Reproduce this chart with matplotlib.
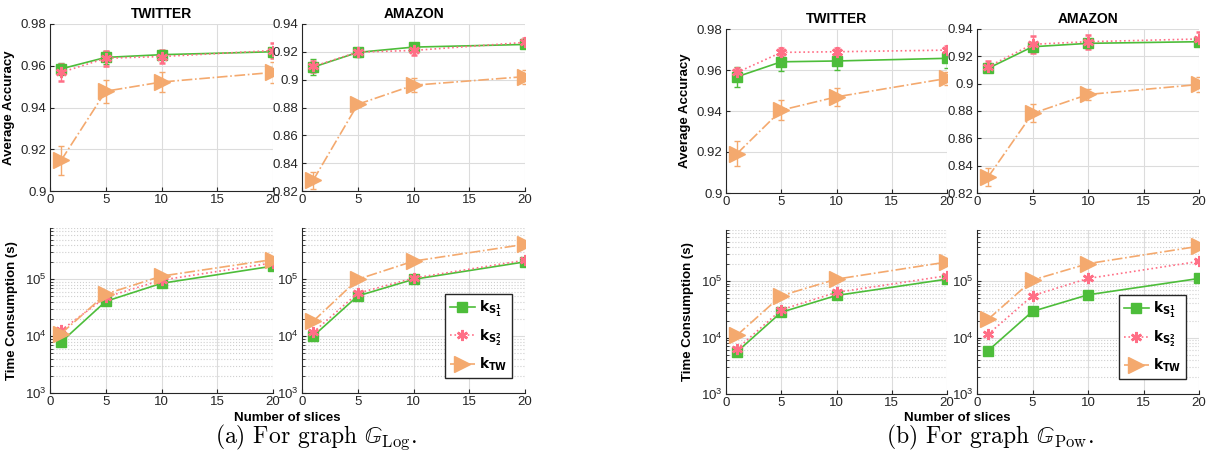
import numpy as np
import matplotlib.pyplot as plt
from matplotlib.ticker import LogLocator, NullFormatter

plt.rcParams['font.family'] = ['Liberation Sans', 'DejaVu Sans']

slices = [1, 5, 10, 20]
datasets = ["TWITTER", "AMAZON"]

# accuracy (mean, err) -- graph G_Log
log_acc = {
    "TWITTER": dict(s1=[0.9585, 0.9640, 0.9653, 0.9667], s1e=[0.003, 0.003, 0.002, 0.002],
                    s2=[0.9568, 0.9636, 0.9644, 0.9673], s2e=[0.004, 0.0035, 0.003, 0.0035],
                    tw=[0.9147, 0.9478, 0.9522, 0.9568], twe=[0.007, 0.0055, 0.0048, 0.005]),
    "AMAZON": dict(s1=[0.9090, 0.9196, 0.9234, 0.9253], s1e=[0.006, 0.003, 0.002, 0.002],
                   s2=[0.9095, 0.9198, 0.9210, 0.9268], s2e=[0.004, 0.003, 0.003, 0.003],
                   tw=[0.8277, 0.8823, 0.8960, 0.9022], twe=[0.006, 0.002, 0.005, 0.005]),
}
# accuracy -- graph G_Pow
pow_acc = {
    "TWITTER": dict(s1=[0.9567, 0.9640, 0.9644, 0.9657], s1e=[0.005, 0.0045, 0.0045, 0.0045],
                    s2=[0.9588, 0.9686, 0.9689, 0.9697], s2e=[0.002, 0.002, 0.002, 0.002],
                    tw=[0.9192, 0.9404, 0.9469, 0.9559], twe=[0.006, 0.005, 0.0045, 0.003]),
    "AMAZON": dict(s1=[0.9112, 0.9270, 0.9295, 0.9307], s1e=[0.003, 0.003, 0.003, 0.003],
                   s2=[0.9124, 0.9288, 0.9307, 0.9327], s2e=[0.004, 0.006, 0.005, 0.005],
                   tw=[0.8317, 0.8782, 0.8921, 0.8994], twe=[0.0067, 0.0066, 0.0043, 0.0057]),
}
# time consumption (s)
log_time = {
    "TWITTER": dict(s1=[7.9e3, 4.1e4, 8.5e4, 1.71e5], s2=[1.27e4, 4.85e4, 9.7e4, 1.95e5],
                    tw=[1.11e4, 5.5e4, 1.14e5, 2.23e5]),
    "AMAZON": dict(s1=[1.0e4, 5.1e4, 1.0e5, 2.03e5], s2=[1.17e4, 5.7e4, 1.05e5, 2.17e5],
                   tw=[1.83e4, 1.0e5, 2.09e5, 4.13e5]),
}
pow_time = {
    "TWITTER": dict(s1=[5.6e3, 2.8e4, 5.55e4, 1.08e5], s2=[6.3e3, 3.1e4, 6.3e4, 1.24e5],
                    tw=[1.1e4, 5.5e4, 1.08e5, 2.17e5]),
    "AMAZON": dict(s1=[5.85e3, 2.9e4, 5.7e4, 1.11e5], s2=[1.14e4, 5.5e4, 1.11e5, 2.23e5],
                   tw=[2.1e4, 1.04e5, 2.03e5, 4.13e5]),
}

labels = {"s1": r"$\mathbf{k_{S_1^1}}$", "s2": r"$\mathbf{k_{S_2^2}}$", "tw": r"$\mathbf{k_{TW}}$"}
styles = {
    "s1": dict(color="#4dbd3a", ls="-", marker="s", ms=7.5),
    "s2": dict(color="#ff6f86", ls=":", marker=(6, 2, 0), ms=8, mew=1.8),
    "tw": dict(color="#f4a96e", ls="-.", marker=">", ms=11),
}

W, H = 1209, 457
fig = plt.figure(figsize=(W / 100, H / 100), dpi=100)


def make_ax(l, r, t, b):
    return fig.add_axes([l / W, 1 - b / H, (r - l) / W, (b - t) / H])


def style_ax(ax):
    for s in ["top", "right"]:
        ax.spines[s].set_visible(False)
    ax.spines["left"].set_color("#262626")
    ax.spines["bottom"].set_color("#262626")
    ax.tick_params(direction="in", labelsize=9.5, colors="#262626", length=3, pad=2.5)
    ax.grid(True, color="#dcdcdc", lw=0.8)
    ax.set_axisbelow(True)
    ax.set_xlim(0, 20)
    ax.set_xticks([0, 5, 10, 15, 20])


groups = [
    (log_acc, log_time, (50, 273, 302, 525), (24, 191, 228, 393), "(a) For graph $\\mathbb{G}_{\\mathrm{Log}}$.", 316, 287),
    (pow_acc, pow_time, (726, 947, 977, 1199), (29, 193, 230, 394), "(b) For graph $\\mathbb{G}_{\\mathrm{Pow}}$.", 990, 957),
]

for acc, tim, xs, ys, caption, capx, xlx in groups:
    for j, name in enumerate(datasets):
        l, r = xs[2 * j], xs[2 * j + 1]
        ax = make_ax(l, r, ys[0], ys[1])
        style_ax(ax)
        d = acc[name]
        for k in ["s1", "s2", "tw"]:
            st = styles[k]
            ax.errorbar(slices, d[k], yerr=d[k + "e"], color=st["color"], ls=st["ls"],
                        marker=st["marker"], ms=st["ms"], mew=st.get("mew", 1), lw=1.2,
                        capsize=2.5, elinewidth=1)
        if name == "TWITTER":
            ax.set_ylim(0.9, 0.98)
            ax.set_yticks([0.9, 0.92, 0.94, 0.96, 0.98])
            ax.set_yticklabels(["0.9", "0.92", "0.94", "0.96", "0.98"])
            ax.set_ylabel("Average Accuracy", fontsize=9.5, fontweight="bold")
            ax.yaxis.set_label_coords(-35 / (r - l), 0.5)
        else:
            ax.set_ylim(0.82, 0.94)
            ax.set_yticks([0.82, 0.84, 0.86, 0.88, 0.9, 0.92, 0.94])
            ax.set_yticklabels(["0.82", "0.84", "0.86", "0.88", "0.9", "0.92", "0.94"])
        ax.set_title(name, fontsize=10, fontweight="bold", pad=4)

        ax2 = make_ax(l, r, ys[2], ys[3])
        style_ax(ax2)
        ax2.set_yscale("log")
        ax2.set_ylim(1e3, 8e5)
        ax2.yaxis.set_minor_locator(LogLocator(base=10, subs=np.arange(2, 10)))
        ax2.yaxis.set_minor_formatter(NullFormatter())
        ax2.tick_params(which="minor", direction="in", length=2, colors="#262626")
        ax2.grid(True, which="minor", axis="y", color="#cfcfcf", ls=":", lw=0.8)
        d = tim[name]
        hs = []
        for k in ["s1", "s2", "tw"]:
            st = styles[k]
            h, = ax2.plot(slices, d[k], color=st["color"], ls=st["ls"], marker=st["marker"],
                          ms=st["ms"], mew=st.get("mew", 1), lw=1.2, label=labels[k])
            hs.append(h)
        if name == "TWITTER":
            ax2.set_ylabel("Time Consumption (s)", fontsize=9.5, fontweight="bold")
            ax2.yaxis.set_label_coords(-32 / (r - l), 0.5)
        else:
            leg = ax2.legend(handles=hs, loc="lower left", bbox_to_anchor=(0.64, 0.09),
                             handlelength=1.8, labelspacing=0.6,
                             borderpad=0.35, handletextpad=0.3, borderaxespad=0,
                             fancybox=False, framealpha=1, edgecolor="#262626",
                             prop=dict(size=10, math_fontfamily="dejavusans"))
            leg.get_frame().set_linewidth(1.0)

    fig.text(xlx / W, 1 - 418 / H, "Number of slices", ha="center", va="center",
             fontsize=9.5, fontweight="bold")
    fig.text(capx / W, 1 - 437 / H, caption, ha="center", va="center", fontsize=17,
             family="cmr10", math_fontfamily="cm")

plt.savefig("out.png", dpi=100)
